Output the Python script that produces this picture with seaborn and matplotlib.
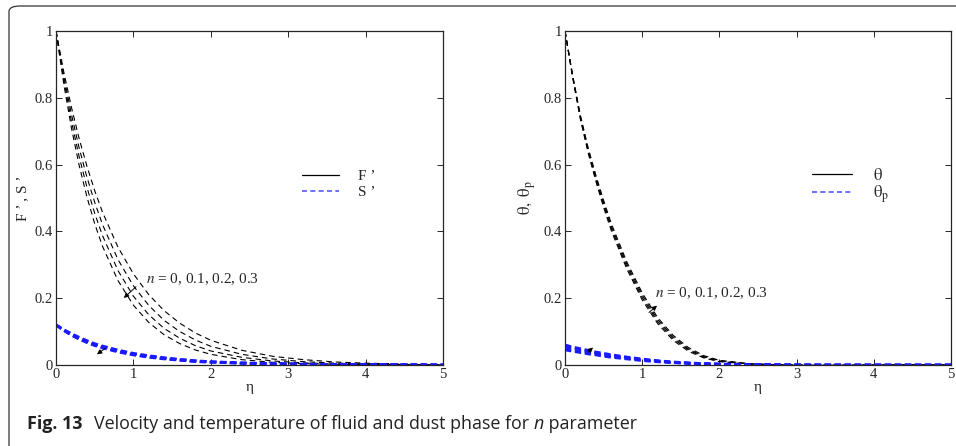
import numpy as np
import pandas as pd
import matplotlib
matplotlib.use("Agg")
import matplotlib.pyplot as plt
import seaborn as sns
from matplotlib.patches import FancyBboxPatch
from matplotlib.lines import Line2D

# ---------------- data ----------------
eta = [0, 0.1, 0.2, 0.3, 0.4, 0.5, 0.6, 0.8, 1.0, 1.2, 1.4, 1.6, 1.8, 2.0,
       2.4, 2.8, 3.2, 3.6, 4.0, 4.5, 5.0]
n_values = ["0", "0.1", "0.2", "0.3"]

F_n0 = [1.0, 0.878, 0.771, 0.677, 0.595, 0.522, 0.458, 0.353, 0.273, 0.210, 0.162,
        0.125, 0.096, 0.074, 0.044, 0.026, 0.016, 0.009, 0.0055, 0.0029, 0.0015]
F_n1 = [1.0, 0.866, 0.750, 0.649, 0.562, 0.487, 0.421, 0.316, 0.237, 0.178, 0.133,
        0.100, 0.075, 0.056, 0.032, 0.018, 0.010, 0.0056, 0.0032, 0.0015, 0.0007]
F_n2 = [1.0, 0.854, 0.729, 0.623, 0.532, 0.454, 0.388, 0.283, 0.206, 0.150, 0.109,
        0.080, 0.058, 0.042, 0.023, 0.012, 0.0064, 0.0034, 0.0018, 0.0008, 0.0004]
F_n3 = [1.0, 0.842, 0.709, 0.597, 0.503, 0.423, 0.356, 0.253, 0.179, 0.127, 0.090,
        0.064, 0.045, 0.032, 0.016, 0.008, 0.004, 0.002, 0.001, 0.0004, 0.0002]

S_n0 = [0.120, 0.106, 0.094, 0.083, 0.073, 0.064, 0.057, 0.045, 0.035, 0.028, 0.022,
        0.017, 0.013, 0.010, 0.0065, 0.004, 0.0025, 0.0015, 0.001, 0.0005, 0.0003]
S_n1 = [0.120, 0.105, 0.092, 0.081, 0.071, 0.062, 0.055, 0.043, 0.033, 0.026, 0.020,
        0.016, 0.012, 0.0094, 0.006, 0.0037, 0.0023, 0.0014, 0.0009, 0.0005, 0.0003]
S_n2 = [0.120, 0.104, 0.090, 0.079, 0.069, 0.060, 0.053, 0.041, 0.031, 0.024, 0.019,
        0.015, 0.011, 0.0088, 0.0055, 0.0034, 0.0021, 0.0013, 0.0008, 0.0004, 0.0002]
S_n3 = [0.120, 0.103, 0.089, 0.077, 0.067, 0.058, 0.051, 0.039, 0.030, 0.023, 0.018,
        0.014, 0.010, 0.0082, 0.005, 0.0031, 0.0019, 0.0012, 0.0007, 0.0004, 0.0002]

T_n0 = [1.0, 0.860, 0.735, 0.635, 0.550, 0.472, 0.402, 0.288, 0.195, 0.124, 0.074,
        0.041, 0.021, 0.010, 0.0023, 0.0004, 0.0001, 0, 0, 0, 0]
T_n1 = [1.0, 0.862, 0.739, 0.640, 0.556, 0.479, 0.409, 0.295, 0.202, 0.130, 0.079,
        0.045, 0.023, 0.011, 0.0027, 0.0005, 0.0001, 0, 0, 0, 0]
T_n2 = [1.0, 0.864, 0.743, 0.645, 0.562, 0.486, 0.416, 0.302, 0.209, 0.136, 0.084,
        0.048, 0.025, 0.013, 0.0031, 0.0006, 0.0001, 0, 0, 0, 0]
T_n3 = [1.0, 0.866, 0.747, 0.650, 0.568, 0.493, 0.423, 0.309, 0.216, 0.142, 0.089,
        0.052, 0.028, 0.014, 0.0035, 0.0007, 0.0001, 0, 0, 0, 0]

Tp_n0 = [0.045, 0.041, 0.037, 0.033, 0.030, 0.026, 0.023, 0.018, 0.013, 0.0095, 0.0068,
         0.0047, 0.0032, 0.0021, 0.0009, 0.0003, 0.0001, 0, 0, 0, 0]
Tp_n1 = [0.050, 0.045, 0.041, 0.037, 0.033, 0.029, 0.026, 0.020, 0.015, 0.011, 0.0076,
         0.0053, 0.0036, 0.0024, 0.001, 0.0004, 0.0001, 0, 0, 0, 0]
Tp_n2 = [0.055, 0.050, 0.045, 0.040, 0.036, 0.032, 0.028, 0.022, 0.016, 0.012, 0.0084,
         0.0058, 0.004, 0.0027, 0.0011, 0.0004, 0.0001, 0, 0, 0, 0]
Tp_n3 = [0.060, 0.054, 0.049, 0.044, 0.039, 0.035, 0.031, 0.024, 0.018, 0.013, 0.0092,
         0.0064, 0.0044, 0.003, 0.0012, 0.0005, 0.0002, 0, 0, 0, 0]

x_ticks = [0, 1, 2, 3, 4, 5]
y_ticks = [0, 0.2, 0.4, 0.6, 0.8, 1.0]
y_ticklabels = ["0", "0.2", "0.4", "0.6", "0.8", "1"]
annot_text = "$n$ = 0, 0.1, 0.2, 0.3"
caption_bold = "Fig. 13"
caption_a = "Velocity and temperature of fluid and dust phase for "
caption_it = "n"
caption_b = " parameter"


def long_df(series_list):
    frames = []
    for nv, vals in zip(n_values, series_list):
        frames.append(pd.DataFrame({"eta": eta, "val": vals, "n": nv}))
    return pd.concat(frames, ignore_index=True)


dfF = long_df([F_n0, F_n1, F_n2, F_n3])
dfS = long_df([S_n0, S_n1, S_n2, S_n3])
dfT = long_df([T_n0, T_n1, T_n2, T_n3])
dfTp = long_df([Tp_n0, Tp_n1, Tp_n2, Tp_n3])

# ---------------- style ----------------
sns.set_style("ticks")
plt.rcParams["font.family"] = ["Liberation Serif", "DejaVu Serif"]
plt.rcParams["mathtext.fontset"] = "stix"
plt.rcParams["axes.linewidth"] = 0.9
plt.rcParams["xtick.direction"] = "in"
plt.rcParams["ytick.direction"] = "in"

fig = plt.figure(figsize=(9.56, 4.46), dpi=100)
ax1 = fig.add_axes([56 / 956, 1 - 365 / 446, 387 / 956, 334 / 446])
ax2 = fig.add_axes([565 / 956, 1 - 365 / 446, 386 / 956, 334 / 446])

black_dash = (5.0, 3.6)
blue_dash = (2.4, 1.4)


def draw(ax, dfa, dfb):
    sns.lineplot(data=dfa, x="eta", y="val", units="n", estimator=None,
                 color="black", lw=0.8, ax=ax, legend=False, dashes=False)
    sns.lineplot(data=dfb, x="eta", y="val", units="n", estimator=None,
                 color="#1a1aff", lw=1.9, ax=ax, legend=False, dashes=False)
    for i, line in enumerate(ax.get_lines()):
        if i < 4:
            line.set_dashes(black_dash)
        else:
            line.set_dashes(blue_dash)
    ax.set_xlim(0, 5)
    ax.set_ylim(0, 1)
    ax.set_xticks(x_ticks)
    ax.set_yticks(y_ticks)
    ax.set_xticklabels([str(t) for t in x_ticks])
    ax.set_yticklabels(y_ticklabels)
    ax.tick_params(axis="both", which="both", direction="in", top=True, right=True,
                   length=4, width=0.7, labelsize=10.5, pad=2)
    for s in ax.spines.values():
        s.set_visible(True)
        s.set_linewidth(0.9)
    ax.set_xlabel("η", fontsize=11, labelpad=0)


draw(ax1, dfF, dfS)
draw(ax2, dfT, dfTp)

ax1.set_ylabel("F ’ , S ’", fontsize=11, labelpad=4)
ax2.set_ylabel(r"$\mathrm{\theta,\ \theta_p}$", fontsize=12, labelpad=4)

# legends
h1 = [Line2D([], [], color="black", lw=0.9),
      Line2D([], [], color="#5555ff", lw=1.2, dashes=(3.0, 2.0))]
ax1.legend(h1, ["F ’", "S ’"], loc="center left", bbox_to_anchor=(0.6, 0.54),
           frameon=False, fontsize=11, handlelength=2.4, handletextpad=1.3,
           labelspacing=0.15)
ax2.legend(h1, [r"$\mathrm{\theta}$", r"$\mathrm{\theta_p}$"], loc="center left",
           bbox_to_anchor=(0.6, 0.535), frameon=False, fontsize=12,
           handlelength=2.4, handletextpad=1.3, labelspacing=0.0)

# annotations
arrow = dict(arrowstyle="-|>", color="black", lw=0.7, mutation_scale=7)
ax1.text(1.16, 0.257, annot_text, fontsize=11, va="center", ha="left")
ax1.annotate("", xy=(0.85, 0.195), xytext=(1.06, 0.24), arrowprops=arrow)
ax1.annotate("", xy=(0.50, 0.027), xytext=(0.66, 0.054), arrowprops=arrow)
ax2.text(1.16, 0.215, annot_text, fontsize=11, va="center", ha="left")
ax2.annotate("", xy=(1.22, 0.183), xytext=(1.06, 0.152), arrowprops=arrow)
ax2.annotate("", xy=(0.39, 0.058), xytext=(0.27, 0.033), arrowprops=arrow)

# outer rounded frame
frame = FancyBboxPatch((9 / 956, -0.2), 1.2, 1.2 - 6 / 446 + 0.0,
                       boxstyle="round,pad=0,rounding_size=0.012",
                       transform=fig.transFigure, fill=False, ec="#333333",
                       lw=0.9, clip_on=False)
fig.patches.append(frame)

# caption
fig.canvas.draw()
r = fig.canvas.get_renderer()
cap_y = 1 - 429 / 446
sans = ["Open Sans", "DejaVu Sans"]
fs = 12.9
t0 = fig.text(27 / 956, cap_y, caption_bold, fontsize=fs, fontweight="bold",
              family=sans, color="#222222", va="baseline")
bb = t0.get_window_extent(r)
x = bb.x1 + 11
t1 = fig.text(x / 956, cap_y, caption_a, fontsize=fs, family=sans,
              color="#222222", va="baseline")
bb = t1.get_window_extent(r)
t2 = fig.text(bb.x1 / 956, cap_y, caption_it, fontsize=fs, family=sans,
              style="italic", color="#222222", va="baseline")
bb = t2.get_window_extent(r)
fig.text(bb.x1 / 956, cap_y, caption_b, fontsize=fs, family=sans,
         color="#222222", va="baseline")

fig.savefig("out.png", dpi=100)
